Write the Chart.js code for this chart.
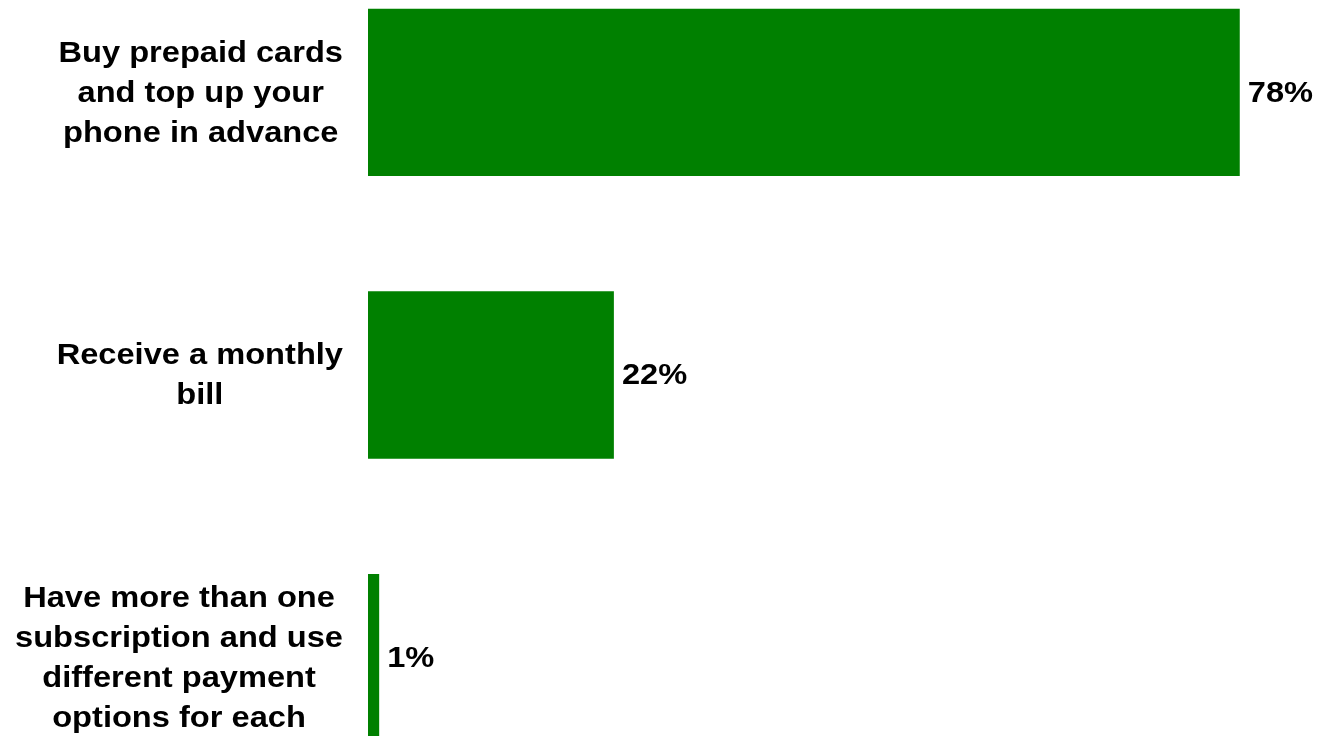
<!DOCTYPE html>
<html>
<head>
<meta charset="utf-8">
<script src="https://cdn.jsdelivr.net/npm/chart.js@4"></script>
<style>
  html, body { margin: 0; padding: 0; background: #ffffff; overflow: hidden; }
  #wrap { position: relative; width: 1318px; height: 736px; overflow: hidden; }
  #chart-bars { position: absolute; left: 0; top: -49px; }
</style>
</head>
<body>
<div id="wrap">
  <canvas id="chart-bars" width="1318" height="848"></canvas>
</div>
<script>
// Respuestas: forma de pago del móvil
const categorias = [
  ["Buy prepaid cards", "and top up your", "phone in advance"],
  ["Receive a monthly", "bill"],
  ["Have more than one", "subscription and use", "different payment", "options for each"]
];
const porcentajes = [78, 22, 1];
const verde = "#008000";

const fuente = "bold 30px 'Liberation Sans', Arial, sans-serif";
const estiramiento = 1.087; // el texto se ve más ancho que alto
const altoLinea = 40;

// Dibuja etiquetas de categoría (centradas por bloque) y valores al final de cada barra
const etiquetas = {
  id: "etiquetas",
  afterDatasetsDraw(chart) {
    const c = chart.ctx;
    const yScale = chart.scales.y;
    const meta = chart.getDatasetMeta(0);
    c.save();
    c.font = fuente;
    c.fillStyle = "#000000";
    c.textBaseline = "middle";
    c.textAlign = "center";

    categorias.forEach(function (lineas, i) {
      const yc = yScale.getPixelForValue(i) + 1;
      let ancho = 0;
      lineas.forEach(function (l) {
        ancho = Math.max(ancho, c.measureText(l).width * estiramiento);
      });
      const xc = 343 - ancho / 2;
      const y0 = yc - (lineas.length - 1) * altoLinea / 2;
      lineas.forEach(function (l, k) {
        c.save();
        c.translate(xc, y0 + k * altoLinea);
        c.scale(estiramiento, 1);
        c.fillText(l, 0, 0);
        c.restore();
      });
    });

    c.textAlign = "left";
    meta.data.forEach(function (barra, i) {
      c.save();
      c.translate(barra.x + 8, barra.y + 1);
      c.scale(estiramiento, 1);
      c.fillText(porcentajes[i] + "%", 0, 0);
      c.restore();
    });
    c.restore();
  }
};

const ctx = document.getElementById("chart-bars").getContext("2d");
let myChart = new Chart(ctx, {
  type: "bar",
  data: {
    labels: categorias,
    datasets: [
      {
        data: porcentajes,
        backgroundColor: verde,
        borderWidth: 0,
        categoryPercentage: 1,
        barPercentage: 0.592,
      }
    ],
  },
  options: {
    indexAxis: "y",
    responsive: false,
    animation: false,
    devicePixelRatio: 1,
    layout: { padding: { left: 368, right: 0, top: 0, bottom: 0 } },
    plugins: {
      legend: { display: false },
      tooltip: { enabled: false },
    },
    scales: {
      x: { min: 0, max: 85, display: false },
      y: { display: false },
    },
  },
  plugins: [etiquetas],
});
</script>
</body>
</html>
